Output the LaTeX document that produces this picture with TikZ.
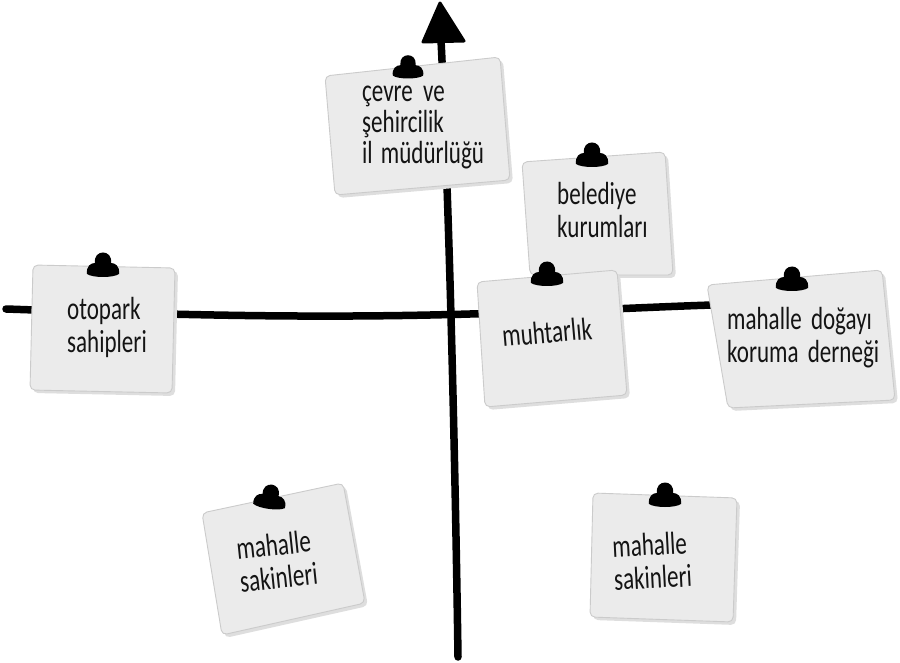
\documentclass[tikz,border=0pt]{standalone}
\usepackage{fontspec}
\setmainfont{Carlito}[FakeStretch=0.72]
\begin{document}
\begin{tikzpicture}[x=1pt,y=-1pt,
  note/.style={fill=notefill,draw=notedraw,line width=0.9pt,rounded corners=5pt},
  shadow/.style={fill=black!13,rounded corners=5pt},
  axis/.style={line width=7.5pt,line cap=round,black},
  pushpin/.pic={\fill[black] (-16,7) .. controls (-17,-1) and (-12,-4) .. (-8,-4)
      .. controls (-10,-18) and (10,-18) .. (8,-4)
      .. controls (12,-4) and (17,-1) .. (16,7)
      .. controls (10,11) and (-10,11) .. (-16,7) -- cycle;},
  label/.style={font=\fontsize{32}{33}\selectfont,align=left,anchor=west,inner sep=0pt,text=black!92}]
\definecolor{notefill}{HTML}{EBEBEB}
\definecolor{notedraw}{HTML}{CBCBCB}
\useasboundingbox (0,0) rectangle (900,663);
% axes
\coordinate (hL) at (6,309);
\coordinate (hM) at (470,314);
\coordinate (hR) at (712,305);
\coordinate (vB) at (458,657);
\coordinate (vT) at (441,40);
\draw[axis] (hL) .. controls (150,314) and (300,319) .. (hM)
            .. controls (580,311) and (650,307) .. (hR);
\draw[axis] (vB) .. controls (455,450) and (449,200) .. (vT);
\filldraw[black,line width=3pt,line join=round] (423,42) -- (440,3) -- (464,41) -- cycle;
% belediye (behind muhtarlik)
\fill[shadow] (525,165) -- (668,155) -- (676,278) -- (533,278) -- cycle;
\path[note] (522,162) -- (665,152) -- (673,275) -- (530,275) -- cycle;
\pic at (592,157) {pushpin};
\node[label] (beled) at (557,210) {belediye\\kurumları};
% cevre
\fill[shadow] (328,79) -- (503,60) -- (513,183) -- (338,198) -- cycle;
\path[note] (325,76) -- (500,57) -- (510,180) -- (335,195) -- cycle;
\pic[scale=0.95] at (408,69) {pushpin};
\node[label,font=\fontsize{32}{31}\selectfont] (cevre) at (362,127) {çevre\hspace{5pt} ve\\şehircilik\\il\hspace{3pt} müdürlüğü};
% otopark
\fill[shadow] (36,268) -- (178,271) -- (175,396) -- (33,393) -- cycle;
\path[note] (33,265) -- (175,268) -- (172,393) -- (30,390) -- cycle;
\pic at (103,267) {pushpin};
\node[label] (otopark) at (67,327) {otopark\\sahipleri};
% muhtarlik
\fill[shadow] (480,285) -- (620,273) -- (630,398) -- (488,410) -- cycle;
\path[note] (477,282) -- (617,270) -- (627,395) -- (485,407) -- cycle;
\pic at (547,276) {pushpin};
\node[label,rotate=5] (muhtar) at (502,336) {muhtarlık};
% mahalle dogayi
\fill[shadow] (710,288) -- (885,273) -- (898,403) -- (731,411) -- cycle;
\path[note] (707,285) -- (882,270) -- (895,400) -- (728,408) -- cycle;
\pic at (792,281) {pushpin};
\node[label] (dogayi) at (727,338) {mahalle\hspace{4pt} doğayı\\koruma\hspace{4pt} derneği};
% mahalle sakinleri left
\fill[shadow] (205,516) -- (346,486) -- (368,606) -- (225,638) -- cycle;
\path[note] (202,513) -- (343,483) -- (365,603) -- (222,635) -- cycle;
\pic[rotate=-8] at (270,499) {pushpin};
\node[label,rotate=6] (sakinL) at (238,565) {mahalle\\sakinleri};
% mahalle sakinleri right
\fill[shadow] (596,496) -- (740,501) -- (736,625) -- (593,620) -- cycle;
\path[note] (593,493) -- (737,498) -- (733,622) -- (590,617) -- cycle;
\pic at (665,497) {pushpin};
\node[label,rotate=3] (sakinR) at (613,563) {mahalle\\sakinleri};
\end{tikzpicture}
\end{document}
